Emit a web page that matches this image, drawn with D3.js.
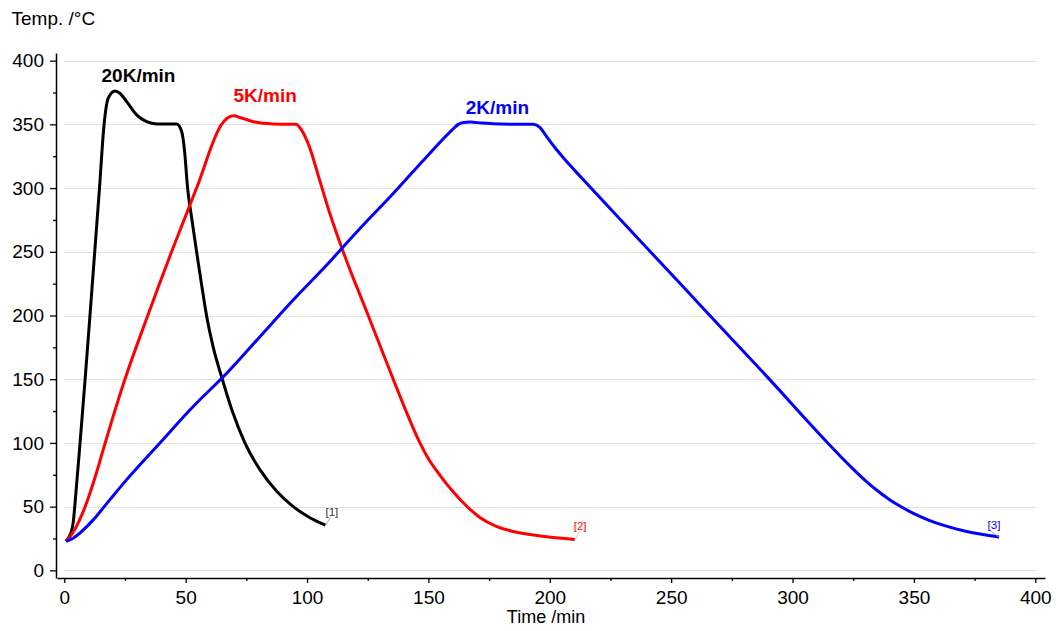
<!DOCTYPE html>
<html>
<head>
<meta charset="utf-8">
<script src="https://cdn.jsdelivr.net/npm/d3@7/dist/d3.min.js"></script>
<style>
  html, body { margin: 0; padding: 0; background: #fff; }
  svg { display: block; font-family: "Liberation Sans", Arial, sans-serif; }
</style>
</head>
<body>
<svg id="chart" width="1056" height="631"></svg>
<script>
// Temperature programs: time (min) and furnace temperature (°C) per heating rate
const seriesNames = ["20K/min", "5K/min", "2K/min"];
const seriesTags = ["[1]", "[2]", "[3]"];

const time20 = [0.7, 2.0, 3.0, 3.7, 4.4, 5.1, 6.5, 8.5, 10.5, 12.5, 14.5, 16.4, 16.8, 18.1, 20.9, 22.9, 25.7, 29.8, 33.9,
  38.1, 46.3, 48.4, 49.5, 50.8, 52.6, 54.5, 56.5, 58.6, 61.5, 65.1, 69.2, 74.4, 80.6, 87.5, 94.3, 101.2, 107.6];
const temp20 = [22.8, 26.5, 31, 38, 52, 68, 100, 148, 198, 249, 300, 350, 357, 370.5, 376.2, 374.4, 367.8, 357.4, 352.1,
  350.3, 350.2, 344, 330, 300, 275, 250, 225, 200, 174, 150, 125, 100, 79, 62, 50, 41.3, 35.4];

const time5 = [0.7, 2.0, 3.5, 5.0, 7.0, 9.0, 11.0, 13.0, 16.0, 20.0, 24.3, 33.9, 44.2, 54.5, 64.8, 67.2, 69.6, 73.0, 77.8,
  86.1, 95.5, 97.0, 98.5, 100.0, 101.5, 104.6, 109.4, 114.9, 125.2, 135.5, 141.0, 146.5, 150.0, 155.0, 160.0, 165.7,
  171.2, 178.0, 184.9, 197.0, 210.3];
const temp5 = [22.8, 25.5, 29.5, 34.5, 42.5, 52, 63, 75, 94.5, 120, 146, 197.5, 250, 300, 350, 355, 356.8, 355, 352.1,
  350.3, 350, 347.5, 343, 337, 329.5, 310, 280, 250, 200, 150, 124, 100, 87.5, 74, 62, 50.5,
  41.5, 34.5, 30.5, 26.8, 24.3];

const time2 = [0.7, 3.5, 6.5, 12.0, 18.8, 25.7, 39.4, 53.1, 66.9, 80.6, 94.3, 108.1, 121.8, 135.5, 149.2, 160.0, 162.3,
  164.5, 167.1, 172.0, 176.7, 185.0, 193.2, 196.0, 198.7, 202.0, 205.5, 209.0, 212.4, 216.5, 240.0, 264.5, 289.0, 314.5,
  320.0, 325.0, 330.0, 335.0, 340.0, 344.2, 350.0, 356.0, 362.0, 371.7, 385.1];
const temp2 = [22.8, 25, 29.4, 39.8, 55.5, 71.2, 100, 128.6, 154.7, 183.4, 212.1, 239.6, 268.3, 295.7, 324.4, 346, 350,
  351.5, 351.8, 351, 350.5, 350.1, 350, 347.5, 340.4, 332, 324, 316.5, 309.5, 301, 253, 203, 153, 100,
  89, 79.5, 70.5, 62.5, 55.5, 50.5, 44.5, 39.5, 35.5, 30.5, 26.2];

const xTicks = d3.range(0, 401, 50);
const xMinor = d3.range(25, 400, 50);
const yTicks = d3.range(0, 401, 50);
const yMinor = d3.range(25, 400, 50);

const series = [
  { name: seriesNames[0], tag: seriesTags[0], t: time20, v: temp20, color: "#000000", tagColor: "#333333", lead: "#9a9a9a",
    labelDx: 23.5, labelDy: -8.5, tagDx: 0, tagDy: -9.5, leadDx: 5, leadDy: -8 },
  { name: seriesNames[1], tag: seriesTags[1], t: time5, v: temp5, color: "#ff0000", tagColor: "#ff0000", lead: "#ff9a9a",
    labelDx: 32, labelDy: -14, tagDx: -1, tagDy: -9, leadDx: 5, leadDy: -8 },
  { name: seriesNames[2], tag: seriesTags[2], t: time2, v: temp2, color: "#0000ff", tagColor: "#0000ff", lead: "#9a9aff",
    labelDx: 27.5, labelDy: -8, tagDx: -11.5, tagDy: -8, leadDx: -10, leadDy: -7 }
];

const svg = d3.select("#chart");

const x = d3.scaleLinear().domain([-3, 404]).range([57, 1045]);
const y = d3.scaleLinear().domain([-6, 406]).range([578, 53]);

// dotted horizontal grid
svg.append("g")
  .selectAll("line")
  .data(yTicks)
  .join("line")
  .attr("x1", x(0)).attr("x2", x(400))
  .attr("y1", d => Math.round(y(d)) + 0.5).attr("y2", d => Math.round(y(d)) + 0.5)
  .attr("stroke", "#c4c4c4")
  .attr("stroke-width", 1)
  .attr("stroke-dasharray", "1,1");

// axes
svg.append("g")
  .attr("transform", `translate(56,0)`)
  .call(d3.axisLeft(y).tickValues(yTicks).tickSize(6).tickSizeOuter(0).tickPadding(6));
svg.append("g")
  .attr("transform", `translate(56,0)`)
  .call(d3.axisLeft(y).tickValues(yMinor).tickSize(3).tickFormat(""))
  .call(g => g.select(".domain").remove());

svg.append("g")
  .attr("transform", `translate(0,578)`)
  .call(d3.axisBottom(x).tickValues(xTicks).tickSize(5).tickSizeOuter(0).tickPadding(8));
svg.append("g")
  .attr("transform", `translate(0,578)`)
  .call(d3.axisBottom(x).tickValues(xMinor).tickSize(3).tickFormat(""))
  .call(g => g.select(".domain").remove());

svg.selectAll(".tick text")
  .attr("font-size", 19)
  .attr("font-family", "'Liberation Sans', Arial, sans-serif")
  .attr("fill", "#000");
svg.selectAll(".domain").attr("stroke", "#000").attr("stroke-width", 1.5);
svg.selectAll(".tick line").attr("stroke", "#000").attr("stroke-width", 1.3);

// axis titles
svg.append("text")
  .attr("x", 11.5).attr("y", 25)
  .attr("font-size", 19)
  .text("Temp. /°C");
svg.append("text")
  .attr("x", 546).attr("y", 623)
  .attr("text-anchor", "middle")
  .attr("font-size", 18)
  .text("Time /min");

// curves
const line = d3.line()
  .x(d => x(d[0]))
  .y(d => y(d[1]))
  .curve(d3.curveMonotoneX);

series.forEach(s => {
  const pts = s.t.map((t, i) => [t, s.v[i]]);
  svg.append("path")
    .datum(pts)
    .attr("d", line)
    .attr("fill", "none")
    .attr("stroke", s.color)
    .attr("stroke-width", 3)
    .attr("stroke-linejoin", "round")
    .attr("stroke-linecap", "butt");

  // heating-rate label above the peak
  const peak = pts.reduce((a, b) => (b[1] > a[1] ? b : a));
  svg.append("text")
    .attr("x", x(peak[0]) + s.labelDx)
    .attr("y", y(peak[1]) + s.labelDy)
    .attr("text-anchor", "middle")
    .attr("font-size", 19)
    .attr("font-weight", "bold")
    .attr("fill", s.color)
    .text(s.name);

  // curve tag at the end point with a short leader
  const end = pts[pts.length - 1];
  const ex = x(end[0]), ey = y(end[1]);
  svg.append("line")
    .attr("x1", ex).attr("y1", ey)
    .attr("x2", ex + s.leadDx).attr("y2", ey + s.leadDy)
    .attr("stroke", s.lead)
    .attr("stroke-width", 0.8);
  svg.append("text")
    .attr("x", ex + s.tagDx)
    .attr("y", ey + s.tagDy)
    .attr("font-size", 11.5)
    .attr("fill", s.tagColor)
    .text(s.tag);
});
</script>
</body>
</html>
